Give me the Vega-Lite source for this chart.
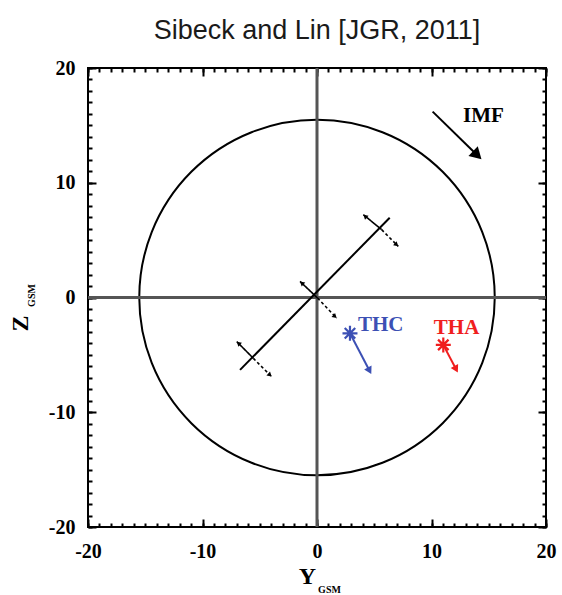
{
  "$schema": "https://vega.github.io/schema/vega-lite/v6.json",
  "autosize": "none",
  "width": 458,
  "height": 459,
  "padding": {"left": 88, "top": 68, "right": 16, "bottom": 68},
  "title": {"text": "Sibeck and Lin [JGR, 2011]", "font": "Liberation Sans", "fontSize": 27, "fontWeight": "normal", "color": "#1a1a1a", "anchor": "middle", "offset": 13},
  "config": {
    "view": {"stroke": "black", "strokeWidth": 2},
    "axis": {"grid": false, "domain": false, "tickColor": "black", "labelColor": "black", "titleColor": "black", "labelFlush": false, "labelOverlap": false}
  },
  "resolve": {"axis": {"x": "independent", "y": "independent"}},
  "datasets": {
    "cross": [
      {"x": -20, "x2": 20, "y": 0, "y2": 0},
      {"x": 0, "x2": 0, "y": -20, "y2": 20}
    ],
    "circle": [{"x": 0, "y": 0}],
    "diag": [{"x": -6.72, "y": -6.31, "x2": 6.35, "y2": 6.95}],
    "perp": [
      {"x": 4.05, "y": 7.22, "x2": 5.65, "y2": 5.91, "kind": "solid"},
      {"x": 5.65, "y": 5.91, "x2": 7.1, "y2": 4.45, "kind": "dash"},
      {"x": -1.48, "y": 1.4, "x2": 0.05, "y2": -0.05, "kind": "solid"},
      {"x": 0.05, "y": -0.05, "x2": 1.72, "y2": -1.8, "kind": "dash"},
      {"x": -7.01, "y": -3.84, "x2": -5.56, "y2": -5.3, "kind": "solid"},
      {"x": -5.56, "y": -5.3, "x2": -3.96, "y2": -6.9, "kind": "dash"}
    ],
    "perpHeads": [
      {"x": 4.2, "y": 7.08, "dir": 312},
      {"x": 6.95, "y": 4.6, "dir": 132},
      {"x": -1.33, "y": 1.26, "dir": 312},
      {"x": 1.57, "y": -1.66, "dir": 132},
      {"x": -6.86, "y": -3.98, "dir": 312},
      {"x": -4.11, "y": -6.76, "dir": 132}
    ],
    "vectors": [
      {"x": 2.88, "y": -3.12, "x2": 4.59, "y2": -6.38, "probe": "THC"},
      {"x": 11.03, "y": -4.13, "x2": 12.15, "y2": -6.25, "probe": "THA"},
      {"x": 10.1, "y": 16.2, "x2": 14.0, "y2": 12.4, "probe": "IMF"}
    ],
    "smallHeads": [
      {"x": 4.59, "y": -6.38, "dir": 152, "probe": "THC"},
      {"x": 12.15, "y": -6.25, "dir": 152, "probe": "THA"}
    ],
    "imfHead": [{"x": 14.0, "y": 12.4, "dir": 134, "probe": "IMF"}],
    "stars": [
      {"x": 2.88, "y": -3.12, "probe": "THC"},
      {"x": 11.03, "y": -4.13, "probe": "THA"}
    ],
    "labels": [
      {"x": 3.58, "y": -2.4, "label": "THC", "probe": "THC"},
      {"x": 10.2, "y": -2.66, "label": "THA", "probe": "THA"},
      {"x": 12.75, "y": 15.8, "label": "IMF", "probe": "IMF"}
    ]
  },
  "layer": [
    {
      "data": {"name": "circle"},
      "mark": {"type": "point", "shape": "circle", "size": 126380, "filled": false, "stroke": "black", "strokeWidth": 2, "opacity": 1},
      "encoding": {
        "x": {"field": "x", "type": "quantitative", "scale": {"domain": [-20, 20], "nice": false, "zero": false},
          "axis": {"orient": "top", "values": [-20, -10, 0, 10, 20], "tickSize": -8, "tickWidth": 2, "labels": false, "title": null}},
        "y": {"field": "y", "type": "quantitative", "scale": {"domain": [-20, 20], "nice": false, "zero": false},
          "axis": {"orient": "right", "values": [-20, -10, 0, 10, 20], "tickSize": -8, "tickWidth": 2, "labels": false, "title": null}}
      }
    },
    {
      "data": {"name": "cross"},
      "mark": {"type": "rule", "color": "#555555", "strokeWidth": 3},
      "encoding": {
        "x": {"field": "x", "type": "quantitative",
          "axis": {"orient": "bottom", "values": [-20, -10, 0, 10, 20], "labelExpr": "'' + datum.value", "tickSize": -8, "tickWidth": 2, "labelPadding": 22, "labelFont": "Liberation Serif", "labelFontSize": 20, "labelFontWeight": "bold", "title": "Y", "titleFont": "Liberation Serif", "titleFontSize": 24, "titleFontWeight": "bold", "titleX": 219, "titleY": 49, "titleBaseline": "middle", "titleAlign": "center"}},
        "x2": {"field": "x2"},
        "y": {"field": "y", "type": "quantitative",
          "axis": {"orient": "left", "values": [-20, -10, 0, 10, 20], "labelExpr": "'' + datum.value", "tickSize": -8, "tickWidth": 2, "labelPadding": 21, "labelFont": "Liberation Serif", "labelFontSize": 20, "labelFontWeight": "bold", "title": "Z", "titleFont": "Liberation Serif", "titleFontSize": 24, "titleFontWeight": "bold", "titleX": -68, "titleY": 255, "titleBaseline": "middle", "titleAlign": "center", "titleAngle": -90}},
        "y2": {"field": "y2"}
      }
    },
    {
      "data": {"name": "diag"},
      "mark": {"type": "rule", "color": "black", "strokeWidth": 2},
      "encoding": {
        "x": {"field": "x", "type": "quantitative",
          "axis": {"orient": "bottom", "values": [-20,-19,-18,-17,-16,-15,-14,-13,-12,-11,-10,-9,-8,-7,-6,-5,-4,-3,-2,-1,0,1,2,3,4,5,6,7,8,9,10,11,12,13,14,15,16,17,18,19,20], "tickSize": -4, "tickWidth": 2, "labels": false, "title": "GSM", "titleFont": "Liberation Serif", "titleFontSize": 10, "titleFontWeight": "bold", "titleX": 241, "titleY": 62, "titleBaseline": "middle", "titleAlign": "center"}},
        "x2": {"field": "x2"},
        "y": {"field": "y", "type": "quantitative",
          "axis": {"orient": "left", "values": [-20,-19,-18,-17,-16,-15,-14,-13,-12,-11,-10,-9,-8,-7,-6,-5,-4,-3,-2,-1,0,1,2,3,4,5,6,7,8,9,10,11,12,13,14,15,16,17,18,19,20], "tickSize": -4, "tickWidth": 2, "labels": false, "title": "GSM", "titleFont": "Liberation Serif", "titleFontSize": 10, "titleFontWeight": "bold", "titleX": -57, "titleY": 227, "titleBaseline": "middle", "titleAlign": "center", "titleAngle": -90}},
        "y2": {"field": "y2"}
      }
    },
    {
      "data": {"name": "perp"},
      "mark": {"type": "rule", "color": "black", "strokeWidth": 1.6},
      "encoding": {
        "x": {"field": "x", "type": "quantitative",
          "axis": {"orient": "top", "values": [-20,-19,-18,-17,-16,-15,-14,-13,-12,-11,-10,-9,-8,-7,-6,-5,-4,-3,-2,-1,0,1,2,3,4,5,6,7,8,9,10,11,12,13,14,15,16,17,18,19,20], "tickSize": -4, "tickWidth": 2, "labels": false, "title": null}},
        "x2": {"field": "x2"},
        "y": {"field": "y", "type": "quantitative",
          "axis": {"orient": "right", "values": [-20,-19,-18,-17,-16,-15,-14,-13,-12,-11,-10,-9,-8,-7,-6,-5,-4,-3,-2,-1,0,1,2,3,4,5,6,7,8,9,10,11,12,13,14,15,16,17,18,19,20], "tickSize": -4, "tickWidth": 2, "labels": false, "title": null}},
        "y2": {"field": "y2"},
        "strokeDash": {"field": "kind", "type": "nominal", "scale": {"domain": ["solid", "dash"], "range": [[1, 0], [3, 2.5]]}, "legend": null}
      }
    },
    {
      "data": {"name": "perpHeads"},
      "mark": {"type": "point", "shape": "triangle-up", "size": 28, "filled": true, "color": "black", "opacity": 1},
      "encoding": {
        "x": {"field": "x", "type": "quantitative", "axis": null},
        "y": {"field": "y", "type": "quantitative", "axis": null},
        "angle": {"field": "dir", "type": "quantitative", "scale": {"domain": [0, 360], "range": [0, 360]}}
      }
    },
    {
      "data": {"name": "vectors"},
      "mark": {"type": "rule", "strokeWidth": 2},
      "encoding": {
        "x": {"field": "x", "type": "quantitative", "axis": null},
        "x2": {"field": "x2"},
        "y": {"field": "y", "type": "quantitative", "axis": null},
        "y2": {"field": "y2"},
        "color": {"field": "probe", "type": "nominal", "scale": {"domain": ["THC", "THA", "IMF"], "range": ["#3c50b4", "#f01e1e", "#000000"]}, "legend": null}
      }
    },
    {
      "data": {"name": "smallHeads"},
      "mark": {"type": "point", "shape": "triangle-up", "size": 70, "filled": true, "opacity": 1},
      "encoding": {
        "x": {"field": "x", "type": "quantitative", "axis": null},
        "y": {"field": "y", "type": "quantitative", "axis": null},
        "angle": {"field": "dir", "type": "quantitative", "scale": {"domain": [0, 360], "range": [0, 360]}},
        "color": {"field": "probe", "type": "nominal", "scale": {"domain": ["THC", "THA", "IMF"], "range": ["#3c50b4", "#f01e1e", "#000000"]}, "legend": null}
      }
    },
    {
      "data": {"name": "imfHead"},
      "mark": {"type": "point", "shape": "triangle-up", "size": 180, "filled": true, "color": "black", "opacity": 1},
      "encoding": {
        "x": {"field": "x", "type": "quantitative", "axis": null},
        "y": {"field": "y", "type": "quantitative", "axis": null},
        "angle": {"field": "dir", "type": "quantitative", "scale": {"domain": [0, 360], "range": [0, 360]}}
      }
    },
    {
      "data": {"name": "stars"},
      "mark": {"type": "point", "shape": "M-1,0L1,0M0,-1L0,1M-0.7,-0.7L0.7,0.7M-0.7,0.7L0.7,-0.7", "size": 225, "filled": false, "strokeWidth": 2.2, "opacity": 1},
      "encoding": {
        "x": {"field": "x", "type": "quantitative", "axis": null},
        "y": {"field": "y", "type": "quantitative", "axis": null},
        "color": {"field": "probe", "type": "nominal", "scale": {"domain": ["THC", "THA", "IMF"], "range": ["#3c50b4", "#f01e1e", "#000000"]}, "legend": null}
      }
    },
    {
      "data": {"name": "labels"},
      "mark": {"type": "text", "font": "Liberation Serif", "fontSize": 21, "fontWeight": "bold", "align": "left", "baseline": "middle"},
      "encoding": {
        "x": {"field": "x", "type": "quantitative", "axis": null},
        "y": {"field": "y", "type": "quantitative", "axis": null},
        "text": {"field": "label"},
        "color": {"field": "probe", "type": "nominal", "scale": {"domain": ["THC", "THA", "IMF"], "range": ["#3c50b4", "#f01e1e", "#000000"]}, "legend": null}
      }
    }
  ]
}
